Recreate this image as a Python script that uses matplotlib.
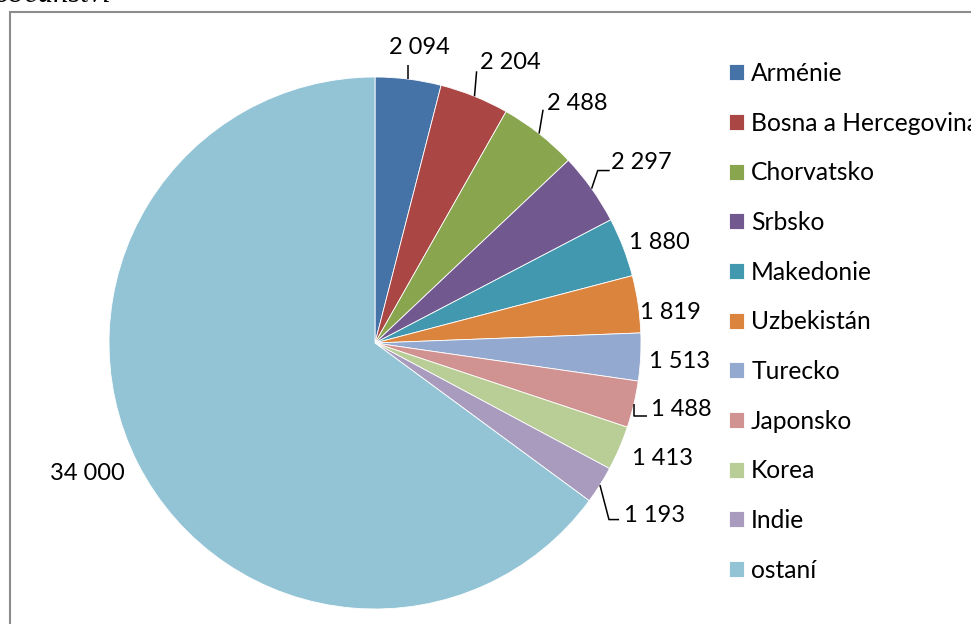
import numpy as np
import matplotlib
matplotlib.use("Agg")
import matplotlib.pyplot as plt
from matplotlib.patches import Rectangle

countries = ["Arménie", "Bosna a Hercegovina", "Chorvatsko", "Srbsko", "Makedonie",
             "Uzbekistán", "Turecko", "Japonsko", "Korea", "Indie", "ostaní"]
values = [2094, 2204, 2488, 2297, 1880, 1819, 1513, 1488, 1413, 1193, 34000]
value_labels = ["2 094", "2 204", "2 488", "2 297", "1 880", "1 819", "1 513",
                "1 488", "1 413", "1 193", "34 000"]
colors = ["#4572A7", "#AA4643", "#89A54E", "#71588F", "#4198AF", "#DB843D",
          "#93A9CF", "#D19392", "#B9CD96", "#A99BBD", "#93C4D6"]

# label layout (style): distance factor and angle nudge (deg, clockwise)
label_dist = [1.125, 1.17, 1.18, 1.21, 1.135, 1.115, 1.147, 1.177, 1.165, 1.237, 1.188]
label_nudge = [1.3, 3.8, 2.1, 1.4, 1.6, 2.6, 0.4, -1.0, -1.5, -0.6, 2.5]
# leader lines: index -> (x shift, rise, run) in radius units
leaders = {0: (0.0, 0.053, 0.0), 1: (0.008, 0.094, 0.0), 2: (0.015, 0.09, 0.0),
           3: (0.023, 0.068, 0.045), 7: (0.0, -0.045, 0.049), 9: (0.034, -0.13, 0.038)}

W, H = 971, 624
fig = plt.figure(figsize=(W / 100, H / 100), dpi=100)
FONT = "Lato"
plt.rcParams['font.family'] = [FONT, 'DejaVu Sans']

R = 266.0
cx, cy = 375.0, 343.0
L = 340.0
ax = fig.add_axes([(cx - L) / W, (H - cy - L) / H, 2 * L / W, 2 * L / H])

wedges, _ = ax.pie(values, colors=colors, startangle=90, counterclock=False, radius=1.0,
                   wedgeprops=dict(edgecolor="white", linewidth=0.6))
ax.set_xlim(-L / R, L / R)
ax.set_ylim(-L / R, L / R)
ax.axis("off")

total = float(sum(values))
cum = 0.0
for i, v in enumerate(values):
    mid = (cum + v / 2) / total * 360.0
    cum += v
    a = np.deg2rad(mid + label_nudge[i])
    d = label_dist[i]
    ax.text(d * np.sin(a), d * np.cos(a), value_labels[i], ha="center", va="center",
            fontsize=17, color="black", clip_on=False)
    if i in leaders:
        sx, rise, run = leaders[i]
        am = np.deg2rad(mid)
        x0, y0 = np.sin(am), np.cos(am)
        xs = [x0, x0 + sx, x0 + sx + run]
        ys = [y0, y0 + rise, y0 + rise]
        ax.plot(xs, ys, color="black", lw=1.1, clip_on=False, solid_capstyle="butt")

leg = fig.legend(wedges, countries, loc="upper left",
                 bbox_to_anchor=(729 / W, 1 - 62 / H), frameon=False,
                 fontsize=17.7, handlelength=0.62, handleheight=0.62,
                 handletextpad=0.28, labelspacing=1.085, borderaxespad=0, borderpad=0)

# outer border of the chart area
fig.patches.append(Rectangle((10 / W, -0.05), 1.2, 1 - 12 / H + 0.05,
                             transform=fig.transFigure, fill=False,
                             edgecolor="#8c8c8c", linewidth=1.5))

# cut-off caption above the chart
fig.text(-6 / W, 1 - 2 / H, "občanství", ha="left", va="baseline",
         fontsize=22, style="italic", family="Liberation Serif", color="black")

fig.savefig("out.png", dpi=100)
